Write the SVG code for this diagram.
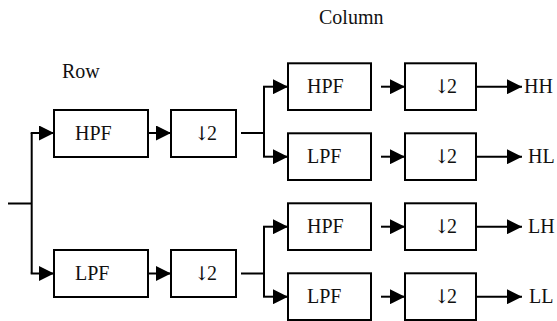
<svg xmlns="http://www.w3.org/2000/svg" width="557" height="321" viewBox="0 0 557 321">
  <defs>
    <marker id="head" markerUnits="userSpaceOnUse" markerWidth="16" markerHeight="15" refX="15" refY="7.5" orient="auto">
      <path d="M0,0 L15,7.5 L0,15 Z" fill="#000"/>
    </marker>
  </defs>
  <style>
    .box { fill: #fff; stroke: #000; stroke-width: 2; }
    .wire { fill: none; stroke: #000; stroke-width: 2; }
    .arrow { fill: none; stroke: #000; stroke-width: 2; marker-end: url(#head); }
    .lbl { font-family: 'Liberation Serif', 'Times New Roman', 'DejaVu Serif', serif; font-size: 20px; fill: #111; }
    .dn { font-family: 'DejaVu Serif', serif; font-size: 19px; letter-spacing: -3px; }
  </style>
  <rect width="557" height="321" fill="#fff"/>

  <!-- connectors -->
  <g id="connectors">
    <!-- input split into row filters -->
    <path class="wire" d="M8,203.5 H31.7 M31.7,133 V273.5"/>
    <path class="arrow" d="M30.7,133 H54"/>
    <path class="arrow" d="M30.7,273.5 H54"/>
    <path class="arrow" d="M148,133 H171"/>
    <path class="arrow" d="M148,273.5 H171"/>
    <!-- split into column filters -->
    <path class="wire" d="M241,133 H264 M264,86.7 V156.7 M241,273.5 H264 M264,226.7 V296.7"/>
    <path class="arrow" d="M263,86.7 H288"/>
    <path class="arrow" d="M263,156.7 H288"/>
    <path class="arrow" d="M263,226.7 H288"/>
    <path class="arrow" d="M263,296.7 H288"/>
    <!-- filter to downsampler -->
    <path class="arrow" d="M381,86.7 H405"/>
    <path class="arrow" d="M381,156.7 H405"/>
    <path class="arrow" d="M381,226.7 H405"/>
    <path class="arrow" d="M381,296.7 H405"/>
    <!-- outputs -->
    <path class="arrow" d="M476,86.7 H522"/>
    <path class="arrow" d="M476,156.7 H522"/>
    <path class="arrow" d="M476,226.7 H522"/>
    <path class="arrow" d="M476,296.7 H522"/>
  </g>

  <!-- stage titles -->
  <g id="titles">
    <text class="lbl" x="319" y="24">Column</text>
    <text class="lbl" x="62" y="78">Row</text>
  </g>

  <!-- row stage -->
  <g id="row-hpf"><rect class="box" x="54" y="110" width="94" height="47"/><text class="lbl" x="75" y="140">HPF</text></g>
  <g id="row-lpf"><rect class="box" x="54" y="250" width="94" height="47"/><text class="lbl" x="75" y="280">LPF</text></g>
  <g id="row-down-h"><rect class="box" x="171" y="110" width="65" height="47"/><text class="lbl" x="194" y="140"><tspan class="dn">↓</tspan>2</text></g>
  <g id="row-down-l"><rect class="box" x="171" y="250" width="65" height="47"/><text class="lbl" x="194" y="280"><tspan class="dn">↓</tspan>2</text></g>

  <!-- column stage -->
  <g id="col-hpf-1"><rect class="box" x="288" y="63.3" width="83" height="46.7"/><text class="lbl" x="307" y="93">HPF</text></g>
  <g id="col-lpf-1"><rect class="box" x="288" y="133.3" width="83" height="46.7"/><text class="lbl" x="307" y="163">LPF</text></g>
  <g id="col-hpf-2"><rect class="box" x="288" y="203.3" width="83" height="46.7"/><text class="lbl" x="307" y="233">HPF</text></g>
  <g id="col-lpf-2"><rect class="box" x="288" y="273.3" width="83" height="46.7"/><text class="lbl" x="307" y="303">LPF</text></g>

  <g id="col-down-1"><rect class="box" x="405" y="63.3" width="71" height="46.7"/><text class="lbl" x="434" y="93"><tspan class="dn">↓</tspan>2</text></g>
  <g id="col-down-2"><rect class="box" x="405" y="133.3" width="71" height="46.7"/><text class="lbl" x="434" y="163"><tspan class="dn">↓</tspan>2</text></g>
  <g id="col-down-3"><rect class="box" x="405" y="203.3" width="71" height="46.7"/><text class="lbl" x="434" y="233"><tspan class="dn">↓</tspan>2</text></g>
  <g id="col-down-4"><rect class="box" x="405" y="273.3" width="71" height="46.7"/><text class="lbl" x="434" y="303"><tspan class="dn">↓</tspan>2</text></g>

  <!-- subband outputs -->
  <g id="out-hh"><text class="lbl" x="524" y="93">HH</text></g>
  <g id="out-hl"><text class="lbl" x="528" y="163">HL</text></g>
  <g id="out-lh"><text class="lbl" x="528" y="233">LH</text></g>
  <g id="out-ll"><text class="lbl" x="529" y="303">LL</text></g>
</svg>
